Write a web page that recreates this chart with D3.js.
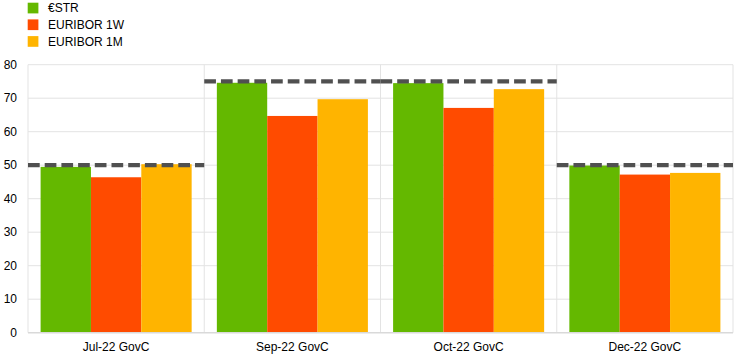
<!DOCTYPE html>
<html><head><meta charset="utf-8">
<script src="https://cdn.jsdelivr.net/npm/d3@7"></script>
<style>body{margin:0;background:#fff}svg{display:block}text{font-family:"Liberation Sans",Arial,sans-serif;font-size:12px;fill:#000}</style>
</head><body><svg id="c" width="744" height="358"></svg>
<script>
const categories = ["Jul-22 GovC","Sep-22 GovC","Oct-22 GovC","Dec-22 GovC"];
const seriesNames = ["€STR","EURIBOR 1W","EURIBOR 1M"];
const estr = [49.5, 74.6, 74.5, 49.9];
const euribor1w = [46.4, 64.7, 67.1, 47.2];
const euribor1m = [50.3, 69.7, 72.7, 47.7];
const policyChange = [50, 75, 75, 50];
const yTicks = [0,10,20,30,40,50,60,70,80];
const colors = ["#64b800","#ff4b00","#ffb400"];
const series = [estr, euribor1w, euribor1m];

const svg = d3.select("#c");
const L = 28, R = 733, T = 64.7, B = 332.7;
const x0 = d3.scaleBand().domain(categories).range([L, R]).padding(0);
const bw = x0.bandwidth();
const pad = 0.0715 * bw;
const x1 = d3.scaleBand().domain(seriesNames).range([pad, bw - pad]).padding(0);
const y = d3.scaleLinear().domain([0, 80]).range([B, T]);

// grid
const g = svg.append("g");
g.selectAll(".hg").data(yTicks.slice(1)).join("line")
  .attr("x1", L).attr("x2", R).attr("y1", d => y(d)).attr("y2", d => y(d))
  .attr("stroke", "#e3e3e3").attr("stroke-width", 1);
g.selectAll(".vg").data(categories).join("line")
  .attr("x1", d => x0(d) + bw).attr("x2", d => x0(d) + bw).attr("y1", T).attr("y2", B)
  .attr("stroke", "#e3e3e3").attr("stroke-width", 1);
g.append("line").attr("x1", L).attr("x2", L).attr("y1", T).attr("y2", B).attr("stroke", "#e3e3e3");

// bars
categories.forEach((c, i) => {
  svg.append("g").selectAll("rect").data(seriesNames).join("rect")
    .attr("x", (s) => x0(c) + x1(s))
    .attr("width", x1.bandwidth())
    .attr("y", (s, j) => y(series[j][i]))
    .attr("height", (s, j) => B - y(series[j][i]))
    .attr("fill", (s, j) => colors[j]);
});

// bottom axis line
svg.append("line").attr("x1", L).attr("x2", R).attr("y1", B).attr("y2", B).attr("stroke", "#d9d9d9").attr("stroke-width", 1.5);

// policy dashed lines
svg.append("g").selectAll("line").data(categories).join("line")
  .attr("x1", d => x0(d)).attr("x2", d => x0(d) + bw)
  .attr("y1", (d, i) => y(policyChange[i])).attr("y2", (d, i) => y(policyChange[i]))
  .attr("stroke", "#505050").attr("stroke-width", 4.3).attr("stroke-dasharray", "11.7,5");

// y labels
svg.append("g").selectAll("text").data(yTicks).join("text")
  .attr("x", 17).attr("y", d => y(d)).attr("dy", "0.35em").attr("text-anchor", "end").text(d => d);

// x labels
svg.append("g").selectAll("text").data(categories).join("text")
  .attr("x", d => x0(d) + bw / 2).attr("y", 351).attr("text-anchor", "middle").text(d => d);

// legend
const lg = svg.append("g");
seriesNames.forEach((s, i) => {
  const cy = 8 + i * 16.7;
  lg.append("rect").attr("x", 27.7).attr("y", cy - 5.3).attr("width", 10.7).attr("height", 10.7).attr("fill", colors[i]);
  lg.append("text").attr("x", 48).attr("y", cy).attr("dy", "0.35em").text(s);
});
</script></body></html>
